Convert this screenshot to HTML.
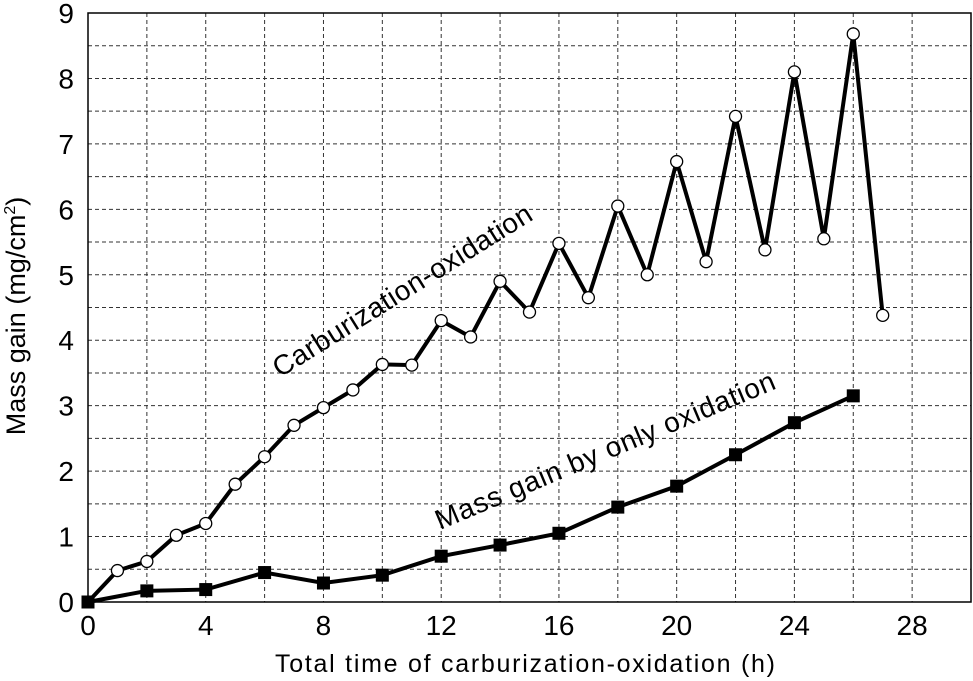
<!DOCTYPE html>
<html><head><meta charset="utf-8"><style>
body{margin:0;background:#fff}
svg{display:block;font-family:"Liberation Sans",Arial,sans-serif}
</style></head><body>
<svg id="chart" width="973" height="681" viewBox="0 0 973 681"></svg>
<script>
const carbX=[0,1,2,3,4,5,6,7,8,9,10,11,12,13,14,15,16,17,18,19,20,21,22,23,24,25,26,27];
const carbY=[0,0.48,0.62,1.02,1.2,1.8,2.22,2.7,2.97,3.24,3.63,3.62,4.3,4.05,4.9,4.43,5.48,4.65,6.05,5.0,6.73,5.2,7.42,5.38,8.1,5.55,8.68,4.38];
const oxX=[0,2,4,6,8,10,12,14,16,18,20,22,24,26];
const oxY=[0,0.17,0.19,0.45,0.29,0.41,0.7,0.87,1.05,1.45,1.77,2.25,2.74,3.15];
const xTicks=[0,4,8,12,16,20,24,28];
const yTicks=[0,1,2,3,4,5,6,7,8,9];
const X0=88,X1=971,Y0=602,Y1=13;
const sx=v=>X0+(v/30)*(X1-X0);
const sy=v=>Y0-(v/9)*(Y0-Y1);
const svg=document.getElementById('chart');
const NS='http://www.w3.org/2000/svg';
function mk(t,a,p){const e=document.createElementNS(NS,t);for(const k in a)e.setAttribute(k,a[k]);(p||svg).appendChild(e);return e;}
for(let v=2;v<30;v+=2){const g=mk('line',{x1:sx(v),x2:sx(v),y1:Y1,y2:Y0,stroke:'#333','stroke-width':1,'stroke-dasharray':'4,3'});

}
for(let v=0.5;v<9;v+=0.5){const g=mk('line',{x1:X0,x2:X1,y1:sy(v),y2:sy(v),stroke:'#333','stroke-width':1,'stroke-dasharray':'4,3'});

}
const frame=mk('rect',{x:X0,y:Y1,width:X1-X0,height:Y0-Y1,fill:'none',stroke:'#000','stroke-width':1.5});


xTicks.forEach(v=>{const t=mk('text',{x:sx(v),y:Y0+33,'text-anchor':'middle','font-size':28});t.textContent=v;

});
yTicks.forEach(v=>{const t=mk('text',{x:X0-14,y:sy(v)+10,'text-anchor':'end','font-size':28});t.textContent=v;

});
const xt=mk('text',{x:525,y:672,'text-anchor':'middle','font-size':25,textLength:500});xt.textContent='Total time of carburization-oxidation (h)';


const yt=mk('text',{x:0,y:0,'text-anchor':'middle','font-size':27,transform:'translate(25,316) rotate(-90)'});
yt.innerHTML='Mass gain (mg/cm<tspan font-size="16" dy="-10">2</tspan><tspan dy="10">)</tspan>';


const l1=mk('polyline',{points:carbX.map((x,i)=>sx(x)+','+sy(carbY[i])).join(' '),fill:'none',stroke:'#000','stroke-width':4});


const l2=mk('polyline',{points:oxX.map((x,i)=>sx(x)+','+sy(oxY[i])).join(' '),fill:'none',stroke:'#000','stroke-width':4});


carbX.forEach((x,i)=>{if(i===0)return;const c=mk('circle',{cx:sx(x),cy:sy(carbY[i]),r:6,fill:'#fff',stroke:'#000','stroke-width':1.3});

});
oxX.forEach((x,i)=>{const r=mk('rect',{x:sx(x)-6.5,y:sy(oxY[i])-6.5,width:13,height:13,fill:'#000'});

});
const a1=mk('text',{x:0,y:0,'font-size':28,textLength:300,transform:'translate(280,378) rotate(-32)'});a1.textContent='Carburization-oxidation';


const a2=mk('text',{x:0,y:0,'font-size':28,textLength:366,transform:'translate(440,530) rotate(-22.8)'});a2.textContent='Mass gain by only oxidation';


</script>
</body></html>
